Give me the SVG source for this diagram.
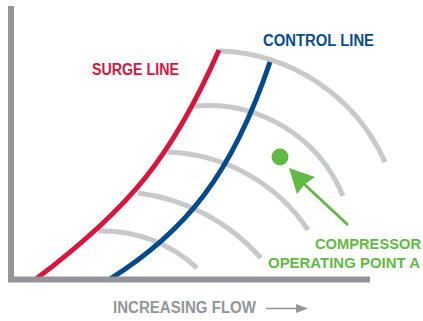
<svg xmlns="http://www.w3.org/2000/svg" width="423" height="321" viewBox="0 0 423 321">
<style>
.arc{fill:none;stroke:#c8c9ca;stroke-width:5}
.lbl{font-family:"Liberation Sans",Arial,sans-serif;font-weight:bold;font-size:16px}
.grn{font-family:"Liberation Sans",Arial,sans-serif;font-weight:bold;font-size:14.8px;fill:#62b946}
</style>
<rect width="423" height="321" fill="#fff"/>
<g id="curves">
<path class="arc" d="M219,51 A188,188 0 0 1 385,162"/>
<path class="arc" d="M195,106 A146,146 0 0 1 343,196"/>
<path class="arc" d="M168,152 A176,176 0 0 1 308,230"/>
<path class="arc" d="M138,193 A196,196 0 0 1 261,258"/>
<path class="arc" d="M98,231 A138,138 0 0 1 197,268"/>
</g>
<g id="surge-line">
<path d="M36,279 C130,208 172,157 219,50" fill="none" stroke="#d6163f" stroke-width="5"/>
<text class="lbl" x="92" y="75" fill="#d6163f" textLength="87" lengthAdjust="spacingAndGlyphs">SURGE LINE</text>
</g>
<g id="control-line">
<path d="M110,279 C185,232 232,175 270,62" fill="none" stroke="#034a8b" stroke-width="5"/>
<text class="lbl" x="263" y="46" fill="#0a4d8c" textLength="111" lengthAdjust="spacingAndGlyphs">CONTROL LINE</text>
</g>
<g id="axes">
<path d="M11,6 V279.5 H370" fill="none" stroke="#939598" stroke-width="6"/>
<text class="lbl" x="113" y="313" fill="#939598" textLength="143" lengthAdjust="spacingAndGlyphs">INCREASING FLOW</text>
<line x1="266" y1="308.5" x2="298" y2="308.5" stroke="#939598" stroke-width="1.5"/>
<polygon points="296,304 308,308.5 296,313" fill="#939598"/>
</g>
<g id="operating-point">
<circle cx="280" cy="157" r="8.5" fill="#62b946"/>
<line x1="303" y1="183" x2="348" y2="225" stroke="#62b946" stroke-width="3"/>
<polygon points="289,168 315,177 305,184 297,194" fill="#62b946"/>
<text class="grn" x="315" y="249" textLength="106" lengthAdjust="spacingAndGlyphs">COMPRESSOR</text>
<text class="grn" x="268" y="268" textLength="152" lengthAdjust="spacingAndGlyphs">OPERATING POINT A</text>
</g>
</svg>
